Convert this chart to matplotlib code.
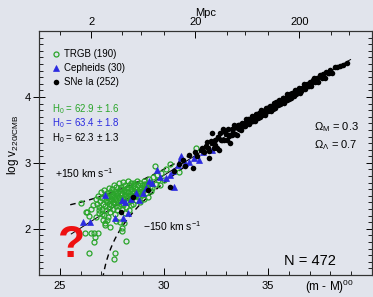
import numpy as np
import matplotlib
matplotlib.use('Agg')
import matplotlib.pyplot as plt
from matplotlib.ticker import FixedLocator, MultipleLocator, NullFormatter

plt.rcParams['font.family'] = ['Liberation Sans', 'DejaVu Sans']
plt.rcParams['mathtext.fontset'] = 'custom'
plt.rcParams['mathtext.rm'] = 'Liberation Sans'
plt.rcParams['mathtext.it'] = 'Liberation Sans'

# ---- data: distance modulus vs log velocity ----
trgb_mu = [26.04, 26.28, 26.39, 26.20, 26.48, 26.64, 26.84, 26.67, 26.64, 26.40,
           27.06, 27.39, 27.15, 27.87, 28.16, 28.00, 27.63, 27.58, 26.52, 26.90,
           26.32, 27.15, 27.28, 27.71, 28.08, 27.99, 26.58, 26.76, 27.02,
           26.72, 26.78, 26.85, 26.90, 26.95, 26.98, 26.88,
           27.02, 27.05, 27.08, 27.10, 27.12, 27.15, 27.18, 27.20, 27.22, 27.25, 27.28, 27.30,
           27.32, 27.34, 27.36, 27.38, 27.40, 27.42, 27.45, 27.47, 27.50, 27.52, 27.55, 27.57, 27.58, 27.60,
           27.62, 27.64, 27.66, 27.68, 27.70, 27.72, 27.74, 27.76, 27.78, 27.80, 27.82, 27.84, 27.86, 27.88, 27.90,
           27.92, 27.94, 27.96, 27.98, 28.00, 28.02, 28.04, 28.06, 28.08, 28.10, 28.12, 28.14, 28.16, 28.18, 28.20,
           28.22, 28.24, 28.26, 28.28, 28.30, 28.32, 28.34, 28.36, 28.38, 28.40, 28.42, 28.44, 28.46, 28.48, 28.50,
           28.52, 28.55, 28.58, 28.60, 28.62, 28.65, 28.68, 28.70, 28.72, 28.75, 28.78,
           28.80, 28.83, 28.86, 28.90, 28.93, 28.96, 29.00, 29.03, 29.06, 29.10,
           29.13, 29.16, 29.20, 29.24, 29.28, 29.32, 29.36, 29.40, 29.45, 29.50,
           29.55, 29.60, 29.65, 29.72, 29.80, 29.87, 30.02, 30.10, 30.30, 31.54, 30.72,
           27.45, 27.70, 27.95, 28.25, 28.55, 28.85, 27.55, 27.85, 28.15, 28.45,
           28.75, 29.05, 27.35, 27.65, 28.05, 28.35, 28.65, 28.95, 29.25, 27.25]
trgb_logv = [2.39, 2.26, 2.20, 1.94, 1.94, 1.94, 1.94, 1.88, 1.80, 1.64,
             2.14, 2.03, 2.06, 2.10, 1.82, 1.97, 1.63, 1.55, 2.30, 2.28,
             2.26, 2.09, 2.14, 2.12, 2.09, 2.02, 2.36, 2.18, 2.22,
             2.45, 2.38, 2.50, 2.33, 2.42, 2.56, 2.24,
             2.30, 2.47, 2.38, 2.59, 2.21, 2.52, 2.34, 2.44, 2.28, 2.55, 2.40, 2.18,
             2.49, 2.62, 2.31, 2.42, 2.56, 2.25, 2.36, 2.50, 2.60, 2.44, 2.30, 2.53, 2.67, 2.39,
             2.48, 2.22, 2.58, 2.35, 2.44, 2.63, 2.52, 2.29, 2.40, 2.56, 2.47, 2.69, 2.34, 2.60, 2.43,
             2.52, 2.38, 2.64, 2.30, 2.55, 2.46, 2.71, 2.36, 2.59, 2.50, 2.24, 2.66, 2.42, 2.57, 2.33,
             2.62, 2.49, 2.73, 2.40, 2.56, 2.28, 2.66, 2.52, 2.44, 2.70, 2.36, 2.60, 2.54, 2.47, 2.65,
             2.38, 2.58, 2.70, 2.50, 2.62, 2.44, 2.55, 2.72, 2.60, 2.48, 2.66,
             2.56, 2.40, 2.70, 2.62, 2.52, 2.66, 2.58, 2.46, 2.72, 2.63,
             2.54, 2.68, 2.60, 2.48, 2.75, 2.64, 2.57, 2.70, 2.62, 2.78,
             2.95, 2.68, 2.82, 2.74, 2.66, 2.84, 2.74, 2.90, 2.98, 3.23, 2.86,
             2.46, 2.54, 2.60, 2.62, 2.66, 2.60, 2.40, 2.49, 2.53, 2.58,
             2.58, 2.68, 2.37, 2.45, 2.45, 2.50, 2.52, 2.57, 2.68, 2.48]

ceph_mu = [26.12, 26.44, 27.66, 28.03, 28.30, 27.98, 28.11, 27.15, 28.67, 29.15,
           29.42, 29.67, 30.10, 30.50, 30.69, 30.82, 30.42, 30.82, 31.20, 31.70,
           31.86, 32.33, 28.40, 29.00, 29.80, 30.30, 31.00, 31.45, 28.80, 29.30]
ceph_logv = [2.11, 2.11, 2.16, 2.16, 2.24, 2.44, 2.41, 2.52, 2.54, 2.62,
             2.69, 2.89, 2.77, 2.64, 2.97, 3.10, 2.87, 3.07, 3.02, 3.05,
             3.17, 3.20, 2.45, 2.55, 2.78, 2.82, 3.00, 3.08, 2.43, 2.72]

sne_mu = [27.92, 28.51, 29.26, 30.31, 30.50, 30.75, 31.20, 31.38, 30.90, 31.00, 31.60, 31.80, 31.50,
          31.85, 31.95, 32.05, 32.10, 32.18, 32.25, 32.33, 32.40, 32.48, 32.55, 32.60, 32.66, 32.72,
          32.80, 32.85, 32.90, 32.98, 33.05, 33.10, 33.15, 33.20, 33.25, 33.30, 33.35, 33.40, 33.45, 33.50,
          31.90, 32.00, 32.15, 32.30, 32.45, 32.62, 32.75, 32.95, 33.12, 33.28, 33.42,
          33.55, 33.60, 33.66, 33.70, 33.76, 33.82, 33.88, 33.93, 34.00, 34.05, 34.10, 34.16, 34.22, 34.28,
          34.33, 34.40, 34.45, 34.50, 34.56, 34.62, 34.68, 34.73, 34.80, 34.85, 34.90, 34.96, 35.02, 35.08,
          35.13, 35.20, 35.25, 35.30, 35.36, 35.42, 35.48, 35.53, 35.60, 35.65, 35.70, 35.76, 35.82, 35.88,
          35.93, 36.00,
          33.58, 33.73, 33.90, 34.08, 34.25, 34.42, 34.60, 34.77, 34.94, 35.10, 35.28, 35.45, 35.62, 35.80, 35.97,
          36.05, 36.12, 36.18, 36.25, 36.30, 36.36, 36.42, 36.50, 36.55, 36.62, 36.68, 36.75, 36.80, 36.86,
          36.93, 37.00, 37.06, 37.12, 37.20, 37.27, 37.35, 37.42, 37.50, 37.58, 37.65, 37.73, 37.80, 37.90,
          38.00, 38.10, 38.20, 38.30, 38.45, 38.60, 38.80,
          36.15, 36.45, 36.72, 37.03, 37.30, 37.60, 37.95,
          33.62, 33.84, 34.13, 34.36, 34.52, 34.70, 34.88, 35.05, 35.22, 35.40,
          35.57, 35.73, 35.90, 36.08, 36.27, 36.40, 36.60, 36.78, 36.97, 37.15]
sne_logv = [2.25, 2.48, 2.59, 2.64, 2.87, 2.98, 3.12, 2.92, 3.05, 2.95, 3.10, 3.20, 3.17,
            3.23, 3.16, 3.31, 3.22, 3.07, 3.33, 3.45, 3.23, 3.35, 3.23, 3.39, 3.20, 3.46,
            3.35, 3.51, 3.34, 3.44, 3.35, 3.51, 3.41, 3.30, 3.52, 3.46, 3.57, 3.44, 3.54, 3.43,
            3.18, 3.25, 3.18, 3.30, 3.27, 3.40, 3.35, 3.47, 3.43, 3.43, 3.54,
            3.58, 3.51, 3.57, 3.50, 3.61, 3.58, 3.56, 3.67, 3.60, 3.66, 3.59, 3.66, 3.71, 3.64,
            3.70, 3.63, 3.74, 3.70, 3.75, 3.69, 3.80, 3.73, 3.78, 3.73, 3.83, 3.82, 3.78, 3.87,
            3.79, 3.87, 3.85, 3.91, 3.83, 3.92, 3.88, 3.96, 3.89, 3.94, 3.98, 3.91, 3.98, 3.96,
            4.04, 3.97,
            3.53, 3.59, 3.61, 3.62, 3.68, 3.72, 3.73, 3.79, 3.79, 3.83, 3.85, 3.91, 3.92, 3.97, 4.00,
            4.04, 3.98, 4.06, 4.03, 4.11, 4.04, 4.09, 4.14, 4.06, 4.14, 4.12, 4.19, 4.12, 4.19,
            4.16, 4.23, 4.16, 4.23, 4.28, 4.22, 4.28, 4.23, 4.34, 4.29, 4.35, 4.29, 4.38, 4.37,
            4.41, 4.37, 4.46, 4.45, 4.47, 4.49, 4.51,
            4.03, 4.08, 4.15, 4.20, 4.25, 4.32, 4.36,
            3.57, 3.56, 3.62, 3.71, 3.68, 3.78, 3.76, 3.84, 3.82, 3.92,
            3.90, 3.99, 3.95, 4.05, 4.02, 4.11, 4.09, 4.17, 4.16, 4.25]

labels = ['TRGB (190)', 'Cepheids (30)', 'SNe Ia (252)']
h0_text = ['62.9 \u00b1 1.6', '63.4 \u00b1 1.8', '62.3 \u00b1 1.3']
top_ticks_mpc = [2, 20, 200]
top_minor_mpc = [1, 4, 6, 10, 40, 60, 100, 400, 600]

H0_LINE = 65.0      # zero point of drawn Hubble line
Q0 = 0.3 / 2 - 0.7  # deceleration parameter
C = 299792.458

green = '#2aa52a'
blue = '#2a2ae0'
bg = '#e1e4ec'


def vel_of_mu(mu, h0):
    d = 10 ** ((np.asarray(mu) - 25) / 5.0)
    a = (1 - Q0) / 2 / C
    return (-1 + np.sqrt(1 + 4 * a * h0 * d)) / (2 * a)


def mu_of_mpc(d):
    return 5 * np.log10(np.asarray(d, dtype=float)) + 25


fig = plt.figure(figsize=(3.73, 2.97), dpi=100, facecolor=bg)
ax = fig.add_axes([39 / 373, 22 / 297, 333 / 373, 244 / 297], facecolor=bg)

# Hubble line and +-150 km/s envelopes
mu_line = np.linspace(25.55, 38.97, 200)
v = vel_of_mu(mu_line, H0_LINE)
ax.plot(mu_line, np.log10(v), color='k', lw=0.7, zorder=2)
mu_up = np.linspace(25.5, 31.5, 200)
ax.plot(mu_up, np.log10(vel_of_mu(mu_up, H0_LINE) + 150), color='k', lw=1.0,
        dashes=(4, 3), zorder=2)
mu_dn = np.linspace(26.9, 31.5, 300)
vdn = vel_of_mu(mu_dn, H0_LINE) - 150
ok = vdn > 1
ax.plot(mu_dn[ok], np.log10(vdn[ok]), color='k', lw=1.0, dashes=(4, 3), zorder=2)

h1, = ax.plot(trgb_mu, trgb_logv, 'o', ms=3.6, mfc='none', mec=green, mew=0.9,
              ls='none', zorder=3)
h2, = ax.plot(ceph_mu, ceph_logv, '^', ms=3.8, mfc=blue, mec=blue, mew=0.5,
              ls='none', zorder=4)
h3, = ax.plot(sne_mu, sne_logv, 'o', ms=4.0, mfc='k', mec='k', mew=0,
              ls='none', zorder=5)

ax.set_xlim(24, 40)
ax.set_ylim(1.3, 5.0)

for s in ax.spines.values():
    s.set_linewidth(0.8)
    s.set_color('#333333')

ax.xaxis.set_major_locator(FixedLocator([25, 30, 35]))
ax.xaxis.set_minor_locator(MultipleLocator(1))
ax.yaxis.set_major_locator(FixedLocator([2, 3, 4]))
ax.yaxis.set_minor_locator(MultipleLocator(0.1))
ax.tick_params(axis='x', which='major', direction='in', length=5, width=0.7,
               labelsize=8, pad=4, top=False)
ax.tick_params(axis='x', which='minor', direction='in', length=3, width=0.6, top=False)
ax.tick_params(axis='y', which='major', direction='inout', length=8, width=0.7,
               labelsize=8, pad=2, right=True)
ax.tick_params(axis='y', which='minor', direction='in', length=3, width=0.6, right=True)

# top axis in Mpc
ax2 = ax.twiny()
ax2.set_xlim(ax.get_xlim())
ax2.xaxis.set_major_locator(FixedLocator(mu_of_mpc(top_ticks_mpc)))
ax2.set_xticklabels([str(t) for t in top_ticks_mpc])
ax2.xaxis.set_minor_locator(FixedLocator(mu_of_mpc(top_minor_mpc)))
ax2.xaxis.set_minor_formatter(NullFormatter())
ax2.tick_params(axis='x', which='major', direction='in', length=5, width=0.7,
                labelsize=8, pad=3)
ax2.tick_params(axis='x', which='minor', direction='in', length=3, width=0.6)
for s in ax2.spines.values():
    s.set_linewidth(0.8)
    s.set_color('#333333')

ax.legend([h1, h2, h3], labels, loc='upper left', bbox_to_anchor=(0.042, 0.925),
          frameon=False, fontsize=7, handlelength=0.7, handletextpad=0.45,
          labelspacing=0.42, borderpad=0, borderaxespad=0)

for txt, col, yy in zip(h0_text, [green, blue, 'k'], [0.680, 0.621, 0.561]):
    ax.text(0.039, yy, 'H$_0$ = ' + txt, color=col, fontsize=7,
            transform=ax.transAxes, ha='left', va='center')

ax.text(0.826, 0.607, r'$\Omega_{\rm M}$ = 0.3', fontsize=8, transform=ax.transAxes,
        ha='left', va='center')
ax.text(0.826, 0.533, r'$\Omega_\Lambda$ = 0.7', fontsize=8, transform=ax.transAxes,
        ha='left', va='center')
ax.text(0.048, 0.418, '+150 km s$^{-1}$', fontsize=7.5, transform=ax.transAxes,
        ha='left', va='center')
ax.text(0.312, 0.201, '\u2212150 km s$^{-1}$', fontsize=7.5, transform=ax.transAxes,
        ha='left', va='center')
ax.text(0.736, 0.057, 'N = 472', fontsize=10.5, transform=ax.transAxes,
        ha='left', va='center')
ax.text(0.097, 0.12, '?', fontsize=32, fontweight='bold', color='#ee1111',
        transform=ax.transAxes, ha='center', va='center')

fig.text(206 / 373, 1 - 13 / 297, 'Mpc', fontsize=8, ha='center', va='center')
fig.text(305 / 373, 1 - 287 / 297, '(m - M)$^{00}$', fontsize=8.5, ha='left',
         va='center')
fig.text(13 / 373, 1 - 145 / 297, 'log v$_{220/CMB}$', fontsize=8.5, rotation=90,
         ha='center', va='center')

fig.savefig('out.png', dpi=100, facecolor=bg)
